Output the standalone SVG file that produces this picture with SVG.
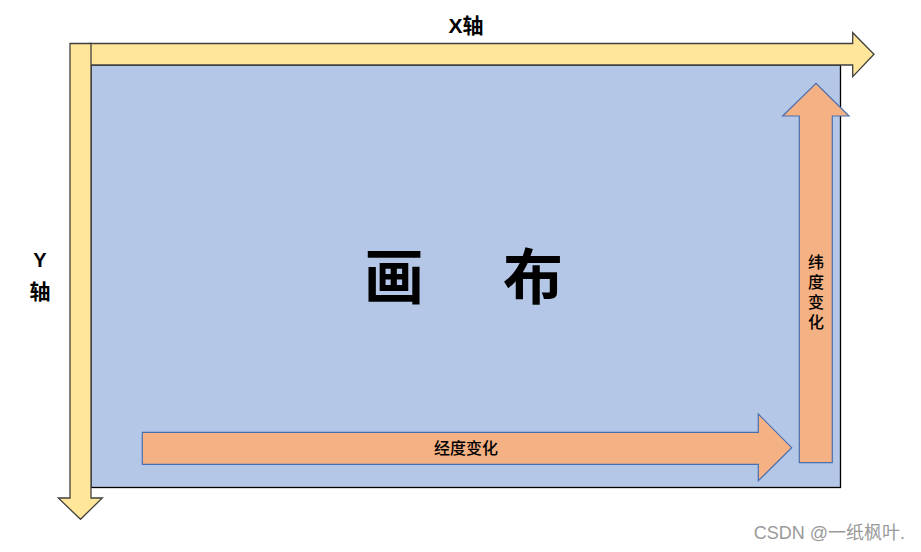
<svg xmlns="http://www.w3.org/2000/svg" width="921" height="552" viewBox="0 0 921 552">
<style>
.yel{fill:#FFE699;stroke:#404040;stroke-width:1.3}
.org{fill:#F4B183;stroke:#4A6FB0;stroke-width:1.2}
.t{font-family:"Liberation Sans","Noto Sans CJK SC",sans-serif;fill:#000;text-anchor:middle}
.b{font-weight:bold}
.m{font-weight:500}
</style>
<rect width="921" height="552" fill="#fff"/>
<g id="canvas">
<rect x="91" y="65" width="749.5" height="422.5" fill="#B4C7E7" stroke="#000" stroke-width="1.3"/>
<text class="t b" x="394" y="299" font-size="60">画</text>
<text class="t b" x="533" y="299" font-size="60">布</text>
</g>
<g id="connectors">
<g id="x-axis">
<polygon class="yel" points="90,43.5 852.7,43.5 852.7,32.7 874,54.3 852.7,76.7 852.7,65 90,65"/>
<text class="t b" x="466" y="33" font-size="21">X轴</text>
</g>
<g id="y-axis">
<polygon class="yel" points="70,43.5 91,43.5 91,498 102.3,498 80.5,519.3 58.3,498 70,498"/>
<text class="t b" x="40" y="267" font-size="20">Y</text>
<text class="t b" x="40" y="299" font-size="21">轴</text>
</g>
<g id="longitude">
<polygon class="org" points="142.3,432.3 758.3,432.3 758.3,414 791.7,447.7 758.3,480.7 758.3,464.3 142.3,464.3"/>
<text class="t m" x="466" y="454" font-size="16">经度变化</text>
</g>
<g id="latitude">
<polygon class="org" points="799.3,462.7 799.3,116 782.7,116 816,83.3 849,116 832.3,116 832.3,462.7"/>
<text class="t m" font-size="16" x="816"><tspan x="816" y="268">纬</tspan><tspan x="816" y="288">度</tspan><tspan x="816" y="308">变</tspan><tspan x="816" y="328">化</tspan></text>
</g>
</g>
<text x="905" y="539" font-size="18" fill="#9a9a9a" text-anchor="end" font-family="&quot;Liberation Sans&quot;,&quot;Noto Sans CJK SC&quot;,sans-serif">CSDN @一纸枫叶.</text>
</svg>
